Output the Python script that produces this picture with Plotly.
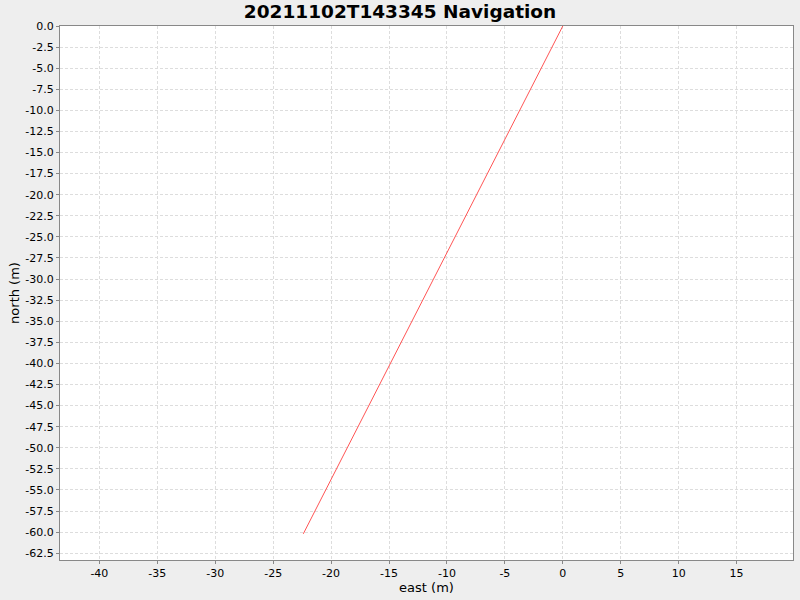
import plotly.graph_objects as go

# --- DATA ---
east = [0.0, -22.4]
north = [0.0, -60.2]
x_ticks = [-40, -35, -30, -25, -20, -15, -10, -5, 0, 5, 10, 15]
y_ticks = [-2.5 * i for i in range(26)]
y_labels = ['%.1f' % v if v != 0 else '0.0' for v in y_ticks]

fig = go.Figure()
fig.add_trace(go.Scatter(x=east, y=north, mode='lines',
                         line=dict(color='#FF5555', width=1), showlegend=False))

axis_style = dict(
    showline=True, linecolor='#888888', linewidth=1, mirror=True,
    showgrid=True, gridcolor='#DDDDDD', griddash='3px,2px', gridwidth=1,
    zeroline=False, ticks='outside', ticklen=3, tickcolor='#888888',
    tickfont=dict(family='DejaVu Sans', size=11, color='#000000'),
)

fig.update_xaxes(range=[-43.4, 19.87], tickmode='array', tickvals=x_ticks,
                 ticktext=[str(v) for v in x_ticks],
                 title=dict(text='east (m)', font=dict(family='DejaVu Sans', size=13, color='#000000'),
                            standoff=3),
                 **axis_style)
fig.update_yaxes(range=[-63.3, 0], tickmode='array', tickvals=y_ticks,
                 ticktext=y_labels,
                 title=dict(text='north (m)', font=dict(family='DejaVu Sans', size=13, color='#000000'),
                            standoff=2),
                 **axis_style)

fig.update_layout(
    width=800, height=600,
    paper_bgcolor='#EEEEEE', plot_bgcolor='#FFFFFF',
    margin=dict(l=60, r=7, t=26, b=40),
    title=dict(text='<b>20211102T143345 Navigation</b>', x=0.5, xanchor='center',
               y=0.98, yanchor='middle',
               font=dict(family='DejaVu Sans', size=18.5, color='#000000')),
)

# drop the default page margin so the figure sits at the window's corner
fig.write_html("out.html", config={'displayModeBar': False},
               post_script="document.body.style.margin='0';")
